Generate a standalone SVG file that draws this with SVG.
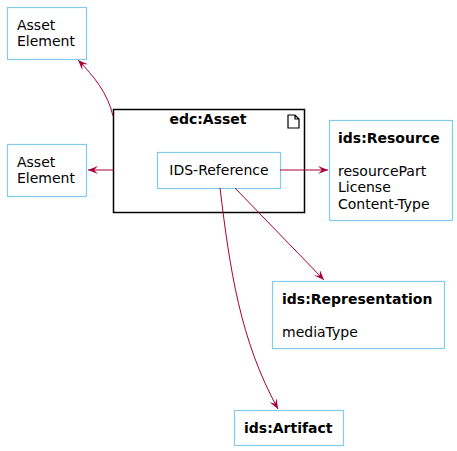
<svg xmlns="http://www.w3.org/2000/svg" width="457" height="451" viewBox="0 0 457 451">
<style>
.n{fill:#fff;stroke:#81CBEB;stroke-width:1.2}
.t{font-family:"DejaVu Sans",sans-serif;font-size:14px;fill:#000}
.b{font-weight:bold}
.e{fill:none;stroke:#A80036;stroke-width:1}
</style>
<defs>
<marker id="a" markerWidth="12" markerHeight="10" refX="10" refY="4" orient="auto" markerUnits="userSpaceOnUse">
<path d="M0,0 L10,4 L0,8 L4,4 Z" fill="#A80036"/>
</marker>
</defs>
<rect width="457" height="451" fill="#fff"/>
<g id="edc-asset">
<rect x="113.5" y="109.5" width="191" height="103" fill="#fff" stroke="#000" stroke-width="1.5"/>
<text class="t b" x="208" y="124" text-anchor="middle">edc:Asset</text>
<path d="M288,115 L295,115 L299,119 L299,128 L288,128 Z M295,115 L295,119 L299,119" fill="none" stroke="#000" stroke-width="1.2"/>
</g>
<g id="asset-element-1">
<rect class="n" x="7.5" y="7.5" width="79" height="52"/>
<text class="t" x="17" y="30">Asset</text>
<text class="t" x="17" y="46">Element</text>
</g>
<g id="asset-element-2">
<rect class="n" x="7.5" y="144.5" width="79" height="52"/>
<text class="t" x="17" y="167">Asset</text>
<text class="t" x="17" y="183">Element</text>
</g>
<g id="ids-reference">
<rect class="n" x="157.5" y="152.5" width="123" height="36"/>
<text class="t" x="219" y="175" text-anchor="middle">IDS-Reference</text>
</g>
<g id="ids-resource">
<rect class="n" x="329.5" y="120.5" width="123" height="100"/>
<text class="t b" x="338" y="143">ids:Resource</text>
<text class="t" x="338" y="176">resourcePart</text>
<text class="t" x="338" y="192">License</text>
<text class="t" x="338" y="209">Content-Type</text>
</g>
<g id="ids-representation">
<rect class="n" x="272.5" y="281.5" width="172" height="67"/>
<text class="t b" x="282" y="304">ids:Representation</text>
<text class="t" x="282" y="337">mediaType</text>
</g>
<g id="ids-artifact">
<rect class="n" x="234.5" y="410.5" width="109" height="35"/>
<text class="t b" x="244" y="433">ids:Artifact</text>
</g>
<g id="connectors">
<path class="e" d="M113,116 C108,94 94,76 78,60" marker-end="url(#a)"/>
<path class="e" d="M113,170 L88,170" marker-end="url(#a)"/>
<path class="e" d="M280,170 L328,170" marker-end="url(#a)"/>
<path class="e" d="M235,188 L324,280" marker-end="url(#a)"/>
<path class="e" d="M220,188 C230,270 240,340 278,409" marker-end="url(#a)"/>
</g>
</svg>
